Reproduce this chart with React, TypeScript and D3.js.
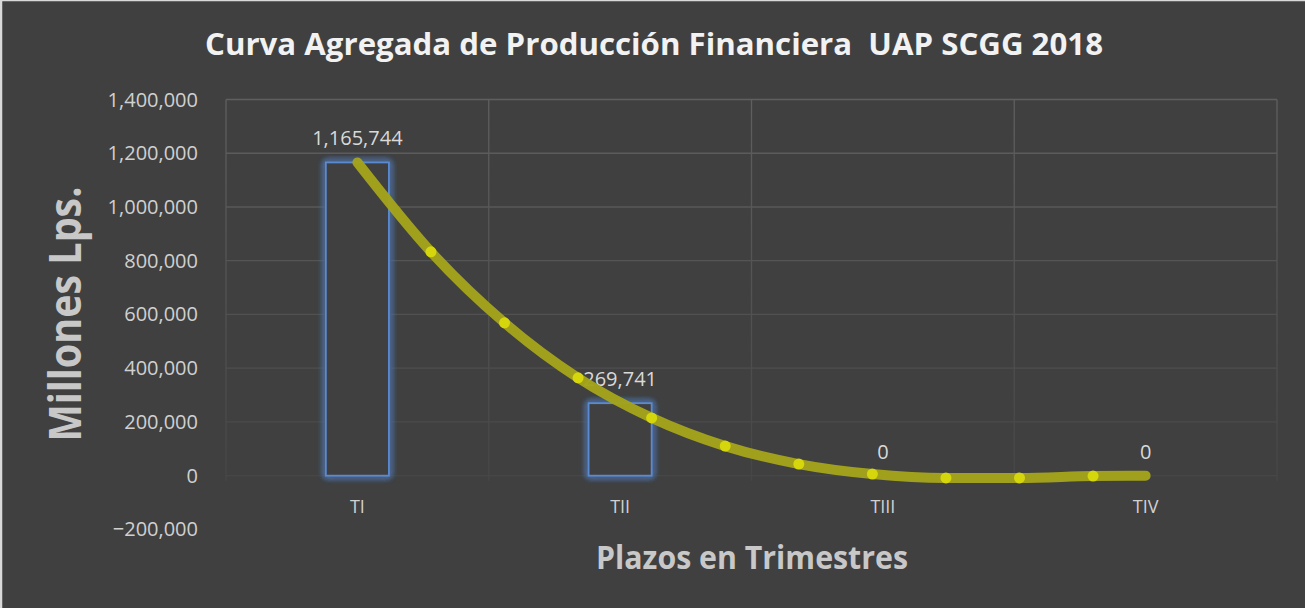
import React from "react";
import * as d3 from "d3";

const categories = ["TI", "TII", "TIII", "TIV"];
const barValues = [1165744, 269741, 0, 0];
const barLabels = ["1,165,744", "269,741", "0", "0"];
const yTicks = [1400000, 1200000, 1000000, 800000, 600000, 400000, 200000, 0, -200000];

// curva: posiciones en indice de trimestre y valores
const curvePos = [0, 0.28, 0.56, 0.84, 1.12, 1.4, 1.68, 1.96, 2.24, 2.52, 2.8, 3.0];
const curveValues = [1165744, 833000, 569000, 364000, 215000, 110000, 43000, 6000, -8500, -8500, -1500, 0];

const W = 1305;
const H = 608;
const margin = { top: 99.5, right: 28, bottom: 78.6, left: 226 };

const App = () => {
  const x = d3
    .scaleBand()
    .domain(categories)
    .range([margin.left, W - margin.right])
    .padding(0);
  const xIdx = d3
    .scaleLinear()
    .domain([-0.5, categories.length - 0.5])
    .range([margin.left, W - margin.right]);
  const y = d3
    .scaleLinear()
    .domain([-200000, 1400000])
    .range([H - margin.bottom, margin.top]);

  const barW = x.bandwidth() * 0.24;
  const fmt = d3.format(",");

  const line = d3
    .line<number>()
    .x((_, i) => xIdx(curvePos[i]))
    .y((d) => y(d))
    .curve(d3.curveMonotoneX);

  const gridTop = y(1400000);
  const gridBottom = y(0);

  return (
    <svg width={W} height={H} style={{ position: "absolute", left: 0, top: 0 }}>
      <defs>
        <filter id="glow" x="-30%" y="-10%" width="160%" height="120%">
          <feGaussianBlur in="SourceGraphic" stdDeviation="3.5" result="blur" />
          <feMerge>
            <feMergeNode in="blur" />
            <feMergeNode in="blur" />
            <feMergeNode in="blur" />
            <feMergeNode in="SourceGraphic" />
          </feMerge>
        </filter>
        <linearGradient id="gridFade" gradientUnits="userSpaceOnUse" x1="0" y1={gridTop} x2="0" y2={gridBottom + 6}>
          <stop offset="0" stopColor="#5f5f5f" />
          <stop offset="1" stopColor="#464646" />
        </linearGradient>
      </defs>
      <rect x={0} y={0} width={W} height={H} fill="#404040" />
      <line x1={0} y1={0.5} x2={W} y2={0.5} stroke="#d9d9d9" strokeWidth={1.5} />
      <line x1={1} y1={0} x2={1} y2={H} stroke="#d9d9d9" strokeWidth={2.5} />

      <text
        x={654}
        y={55}
        textAnchor="middle"
        fontFamily="'Open Sans', sans-serif"
        fontWeight="bold"
        fontSize={30}
        fill="#f2f2f2"
        textLength={898}
        lengthAdjust="spacingAndGlyphs"
        style={{ whiteSpace: "pre" }}
      >
        Curva Agregada de Producción Financiera  UAP SCGG 2018
      </text>

      {/* rejilla */}
      {yTicks
        .filter((t) => t >= 0)
        .map((t) => (
          <line key={t} x1={margin.left} x2={W - margin.right} y1={y(t)} y2={y(t)} stroke="url(#gridFade)" strokeWidth={1.3} />
        ))}
      {d3.range(categories.length + 1).map((i) => {
        const gx = margin.left + i * x.bandwidth();
        return <line key={i} x1={gx} x2={gx} y1={gridTop} y2={gridBottom + 5} stroke="url(#gridFade)" strokeWidth={1.3} />;
      })}

      {/* eje y */}
      {yTicks.map((t) => (
        <text
          key={t}
          x={margin.left - 28}
          y={y(t)}
          dy="0.35em"
          textAnchor="end"
          fontFamily="'Open Sans', sans-serif"
          fontSize={20}
          fill="#d0d0d0"
        >
          {fmt(t)}
        </text>
      ))}

      {/* barras */}
      {categories.map((c, i) =>
        barValues[i] > 0 ? (
          <rect
            key={c}
            x={x(c)! + x.bandwidth() / 2 - barW / 2}
            y={y(barValues[i])}
            width={barW}
            height={y(0) - y(barValues[i])}
            fill="#404040"
            stroke="#5a8ad0"
            strokeWidth={1.8}
            filter="url(#glow)"
          />
        ) : null
      )}

      {/* etiquetas de datos */}
      {categories.map((c, i) => (
        <text
          key={c}
          x={x(c)! + x.bandwidth() / 2}
          y={y(barValues[i]) - 17}
          textAnchor="middle"
          fontFamily="'Open Sans', sans-serif"
          fontSize={20}
          fill="#d9d9d9"
        >
          {barLabels[i]}
        </text>
      ))}

      {/* curva */}
      <path
        d={line(curveValues) || ""}
        fill="none"
        stroke="#a3a31c"
        strokeWidth={10}
        strokeLinecap="round"
        strokeLinejoin="round"
        opacity={0.97}
      />
      {curveValues.slice(1, -1).map((v, i) => (
        <circle key={i} cx={xIdx(curvePos[i + 1])} cy={y(v)} r={5.5} fill="#d6d60c" />
      ))}

      {/* eje x */}
      {categories.map((c) => (
        <text
          key={c}
          x={x(c)! + x.bandwidth() / 2}
          y={513}
          textAnchor="middle"
          fontFamily="'Open Sans', sans-serif"
          fontSize={18}
          fill="#d0d0d0"
        >
          {c}
        </text>
      ))}

      <text
        x={752}
        y={569}
        textAnchor="middle"
        fontFamily="'Open Sans', sans-serif"
        fontWeight="bold"
        fontSize={32}
        fill="#c8c8c8"
        textLength={312}
        lengthAdjust="spacingAndGlyphs"
      >
        Plazos en Trimestres
      </text>
      <text
        transform={`translate(81, 314) rotate(-90)`}
        textAnchor="middle"
        fontFamily="'Open Sans', sans-serif"
        fontWeight="bold"
        fontSize={44}
        fill="#c8c8c8"
        textLength={255}
        lengthAdjust="spacingAndGlyphs"
      >
        Millones Lps.
      </text>
    </svg>
  );
};

export default App;
